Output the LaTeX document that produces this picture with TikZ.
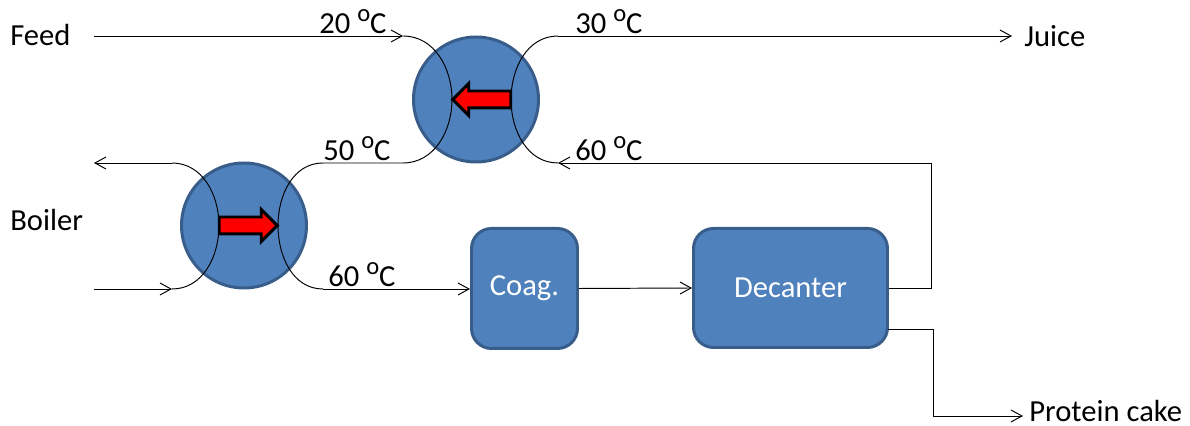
\documentclass[tikz,border=0pt]{standalone}
\usepackage{fontspec}
\setmainfont{Carlito}
\usetikzlibrary{arrows.meta,shapes.arrows}
\definecolor{unitblue}{HTML}{4F81BD}
\definecolor{unitedge}{HTML}{385D8A}
\newcommand{\tempC}[1]{#1 \raisebox{0.42em}{\fontsize{14}{14}\selectfont o}C}
\tikzset{
  >={Straight Barb[length=2.2mm,width=2.4mm]},
  stream/.style={line width=0.55pt},
  label/.style={anchor=base west,inner sep=0pt,font=\fontsize{17.4}{20}\selectfont},
  exchanger/.style={circle,draw=unitedge,fill=unitblue,line width=1.7pt,minimum size=2.5cm,inner sep=0pt},
  unitbox/.style={rectangle,rounded corners=0.4cm,draw=unitedge,fill=unitblue,line width=1.7pt,text=white,font=\fontsize{17.4}{20}\selectfont,inner sep=0pt},
  heatarrow/.style={single arrow,draw=black,fill=red,line width=1.7pt,minimum height=1.16cm,inner xsep=0pt,inner ysep=0.14cm,single arrow head extend=0.15cm,single arrow head indent=0cm,outer sep=0pt}
}
\begin{document}
\begin{tikzpicture}

        \useasboundingbox (0,0) rectangle (23.8,8.52);

        %Units
        \node [exchanger] (hxtop) at (9.52,6.53) {};
        \node [exchanger] (hxleft) at (4.88,4.01) {};
        \node [unitbox, minimum width=2.12cm, minimum height=2.4cm] (coag) at (10.49,2.75) {Coag.};
        \node [unitbox, minimum width=3.88cm, minimum height=2.38cm] (decanter) at (15.81,2.76) {Decanter};

        %Stream points
        \coordinate (feedin) at (1.88,7.8);
        \coordinate (feedend) at (8.06,7.8);
        \coordinate (topcoldapex) at (9.04,6.53);
        \coordinate (tophotout) at (8.06,5.26);
        \coordinate (leftcoldin) at (6.46,5.26);
        \coordinate (leftcoldapex) at (5.56,4.01);
        \coordinate (leftcoldout) at (6.46,2.74);
        \coordinate (boilerin) at (1.88,2.74);
        \coordinate (boilerend) at (3.44,2.74);
        \coordinate (boilerapex) at (4.38,4.01);
        \coordinate (boilerstart) at (3.44,5.26);
        \coordinate (boilerout) at (1.88,5.26);
        \coordinate (juicestart) at (11.16,7.8);
        \coordinate (juiceapex) at (10.22,6.53);
        \coordinate (juiceout) at (20.24,7.8);
        \coordinate (returnend) at (11.16,5.26);
        \coordinate (returnup) at (18.62,2.76);
        \coordinate (returntop) at (18.62,5.26);
        \coordinate (cakestart) at (17.75,1.94);
        \coordinate (cakedown) at (18.66,1.94);
        \coordinate (cakelow) at (18.66,0.2);
        \coordinate (cakeout) at (20.46,0.2);

        %Feed through both exchangers
        \draw [stream, ->] (feedin) -- (feedend);
        \draw [stream] (feedend) to [out=0, in=90] (topcoldapex) to [out=-90, in=0] (tophotout) -- (leftcoldin);
        \draw [stream] (leftcoldin) to [out=180, in=90] (leftcoldapex) to [out=-90, in=180] (leftcoldout);
        \draw [stream, ->] (leftcoldout) -- (leftcoldout -| coag.west);

        %Boiler
        \draw [stream, ->] (boilerin) -- (boilerend);
        \draw [stream] (boilerend) to [out=0, in=-90] (boilerapex) to [out=90, in=0] (boilerstart);
        \draw [stream, ->] (boilerstart) -- (boilerout);

        %Juice
        \draw [stream, ->] (juicestart) -- (juiceout);
        \draw [stream] (juicestart) to [out=180, in=90] (juiceapex) to [out=-90, in=180] (returnend);
        \draw [stream, ->] (returnup -| decanter.east) -- (returnup) -- (returntop) -- (returnend);

        %Coag to decanter and cake
        \draw [stream, ->] (coag.east) -- (decanter.west);
        \draw [stream, ->] (cakestart) -- (cakedown) -- (cakelow) -- (cakeout);

        %Heat arrows
        \node [heatarrow, shape border rotate=180] (heattop) at (9.72,6.53) {};
        \node [heatarrow] (heatleft) at (4.88,4.01) {};

        %Labels
        \node [label] (feedtext) at (0.2,7.6) {Feed};
        \node [label] (juicetext) at (20.48,7.58) {Juice};
        \node [label] (boilertext) at (0.2,3.9) {Boiler};
        \node [label] (caketext) at (20.58,0.08) {Protein cake};
        \node [label] (tempa) at (6.38,7.84) {\tempC{20}};
        \node [label] (tempb) at (11.5,7.84) {\tempC{30}};
        \node [label] (tempc) at (6.46,5.3) {\tempC{50}};
        \node [label] (tempd) at (11.5,5.3) {\tempC{60}};
        \node [label] (tempe) at (6.56,2.78) {\tempC{60}};

\end{tikzpicture}
\end{document}
